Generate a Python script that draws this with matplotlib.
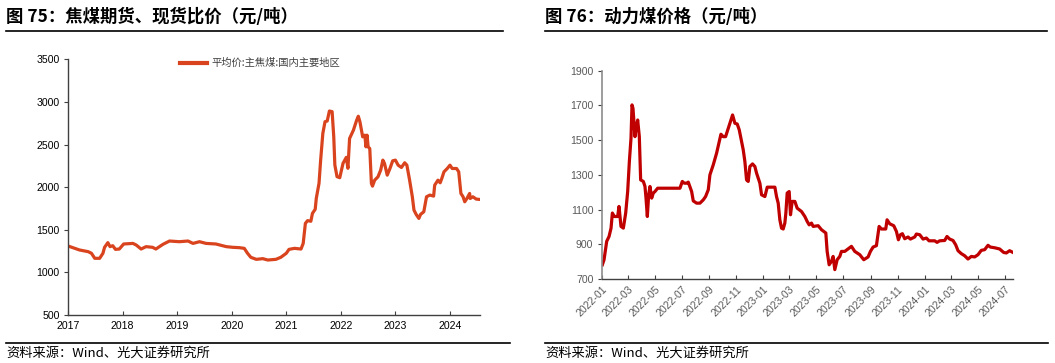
import matplotlib
matplotlib.use("Agg")
import matplotlib.pyplot as plt
import matplotlib.dates as mdates
from matplotlib.lines import Line2D
import pandas as pd
import numpy as np

plt.rcParams['font.family'] = ['Liberation Sans', 'Noto Sans CJK SC', 'DejaVu Sans']

# ---------------- data: left panel (decimal year, price) ----------------
coking_year = [
    2017.00, 2017.21, 2017.37, 2017.43, 2017.49, 2017.58, 2017.64, 2017.67, 2017.73, 2017.77,
    2017.82, 2017.87, 2017.94, 2018.02, 2018.19, 2018.25, 2018.34, 2018.43, 2018.55, 2018.61,
    2018.74, 2018.86, 2019.04, 2019.20, 2019.29, 2019.41, 2019.53, 2019.71, 2019.90, 2020.02,
    2020.14, 2020.23, 2020.29, 2020.35, 2020.45, 2020.57, 2020.66, 2020.81, 2020.90, 2021.00,
    2021.05, 2021.15, 2021.27, 2021.31, 2021.35, 2021.39, 2021.45, 2021.48, 2021.53, 2021.55,
    2021.60, 2021.63, 2021.67, 2021.71, 2021.75, 2021.79, 2021.84, 2021.87, 2021.89, 2021.93,
    2021.98, 2022.04, 2022.10, 2022.13, 2022.16, 2022.23, 2022.29, 2022.32, 2022.35, 2022.40,
    2022.44, 2022.46, 2022.48, 2022.50, 2022.53, 2022.56, 2022.58, 2022.62, 2022.68, 2022.73,
    2022.77, 2022.80, 2022.85, 2022.90, 2022.95, 2023.00, 2023.05, 2023.11, 2023.17, 2023.21,
    2023.26, 2023.31, 2023.34, 2023.38, 2023.43, 2023.46, 2023.52, 2023.57, 2023.63, 2023.70,
    2023.72, 2023.78, 2023.82, 2023.85, 2023.89, 2023.95, 2024.00, 2024.04, 2024.12, 2024.16,
    2024.20, 2024.24, 2024.27, 2024.31, 2024.36, 2024.37, 2024.42, 2024.48, 2024.54,
]
coking_price = [
    1310, 1263, 1243, 1224, 1165, 1165, 1224, 1294, 1349, 1302,
    1313, 1270, 1274, 1333, 1340, 1321, 1274, 1302, 1294, 1274,
    1329, 1368, 1360, 1368, 1340, 1360, 1340, 1333, 1302, 1294,
    1290, 1282, 1224, 1177, 1153, 1161, 1145, 1153, 1177, 1224,
    1270, 1282, 1274, 1340, 1575, 1607, 1600, 1693, 1740, 1869,
    2045, 2319, 2631, 2768, 2776, 2893, 2886, 2592, 2260, 2123,
    2111, 2280, 2350, 2221, 2571, 2668, 2786, 2832, 2766, 2590,
    2610, 2473, 2610, 2473, 2453, 2043, 2012, 2082, 2121, 2200,
    2317, 2278, 2141, 2219, 2309, 2317, 2258, 2231, 2286, 2258,
    2082, 1887, 1731, 1680, 1633, 1680, 1711, 1887, 1907, 1895,
    2024, 2082, 2051, 2102, 2180, 2219, 2258, 2219, 2219, 2180,
    1926, 1887, 1828, 1867, 1926, 1867, 1887, 1860, 1856,
]
coking_label = '平均价:主焦煤:国内主要地区'
left_years = [2017, 2018, 2019, 2020, 2021, 2022, 2023, 2024]
left_yticks = [500, 1000, 1500, 2000, 2500, 3000, 3500]

# ---------------- data: right panel (days since 2022-01-01, price) ----------------
thermal_start = '2022-01-01'
thermal_day = [
    1.5, 5.3, 11.3, 16.6, 21.1, 24.1, 28.6, 36.1, 39.1, 43.6,
    48.9, 54.2, 58.7, 62.5, 66.2, 68.5, 70.7, 75.2, 77.5, 81.3,
    85.0, 88.0, 94.1, 97.8, 100.1, 103.1, 106.1, 109.1, 112.9, 116.6,
    120.4, 126.4, 176.8, 182.1, 186.6, 191.9, 195.6, 203.2, 206.9, 214.4,
    222.0, 229.5, 234.7, 240.8, 244.5, 252.1, 259.6, 264.8, 269.4, 274.6,
    279.9, 285.9, 293.4, 295.7, 301.0, 306.2, 310.8, 316.0, 319.8, 323.5,
    327.3, 331.1, 334.8, 340.8, 346.1, 349.9, 357.4, 361.2, 368.7, 374.0,
    391.3, 395.0, 398.8, 402.5, 406.3, 410.1, 413.8, 416.1, 419.1, 423.6,
    426.6, 430.4, 436.4, 441.7, 451.4, 459.0, 464.2, 468.8, 474.0, 477.8,
    489.1, 496.6, 506.4, 509.4, 513.9, 519.2, 522.9, 526.7, 532.0, 538.0,
    541.7, 549.2, 554.5, 564.3, 571.8, 579.3, 583.1, 592.1, 601.9, 607.2,
    613.2, 620.7, 626.8, 632.0, 641.8, 644.8, 650.8, 659.9, 665.9, 670.4,
    674.9, 679.4, 684.7, 692.2, 697.5, 707.3, 711.0, 718.6, 726.1, 733.6,
    739.6, 752.4, 757.7, 763.7, 775.0, 780.2, 786.3, 793.8, 799.8, 805.1,
    812.6, 820.1, 827.6, 835.2, 842.7, 850.2, 857.7, 865.3, 872.8, 878.1,
    887.8, 899.1, 908.2, 914.2, 921.7, 929.2,
]
thermal_price = [
    782, 811, 917, 945, 993, 1080, 1060, 1060, 1118, 1003,
    993, 1080, 1204, 1377, 1511, 1703, 1683, 1520, 1568, 1616,
    1520, 1271, 1262, 1233, 1166, 1060, 1185, 1233, 1166, 1195,
    1204, 1223, 1223, 1262, 1252, 1252, 1258, 1204, 1150, 1137,
    1137, 1156, 1175, 1214, 1300, 1358, 1425, 1482, 1534, 1520,
    1520, 1568, 1626, 1645, 1597, 1593, 1559, 1492, 1444, 1377,
    1271, 1262, 1348, 1363, 1348, 1310, 1252, 1185, 1175, 1229,
    1229, 1175, 1137, 1041, 993, 988, 1022, 1080, 1195, 1204,
    1070, 1147, 1147, 1108, 1089, 1060, 1032, 1012, 1022, 1003,
    1007, 984, 965, 859, 782, 802, 830, 754, 811, 830,
    859, 859, 869, 888, 859, 846, 840, 811, 827, 859,
    884, 892, 1003, 988, 988, 1041, 1018, 1007, 974, 926,
    955, 961, 932, 942, 930, 942, 959, 955, 930, 936,
    920, 920, 911, 920, 922, 945, 930, 922, 897, 863,
    846, 834, 815, 830, 827, 840, 865, 869, 894, 884,
    880, 873, 853, 850, 863, 853,
]
right_ticks = ['2022-01', '2022-03', '2022-05', '2022-07', '2022-09', '2022-11',
               '2023-01', '2023-03', '2023-05', '2023-07', '2023-09', '2023-11',
               '2024-01', '2024-03', '2024-05', '2024-07']
right_yticks = [700, 900, 1100, 1300, 1500, 1700, 1900]

title_left = '图 75：焦煤期货、现货比价（元/吨）'
title_right = '图 76：动力煤价格（元/吨）'
source = '资料来源：Wind、光大证券研究所'

# ---------------- figure ----------------
W, H = 1055, 363
fig = plt.figure(figsize=(W / 100, H / 100), dpi=100)

def fx(px):
    return px / W

def fy(py):
    return 1 - py / H

# titles, rules, sources
for x0, x1, t in [(6, 503, title_left), (545, 1047, title_right)]:
    fig.text(fx(x0), fy(17), t, fontsize=12.5, fontweight='bold', va='center', ha='left',
             family=['Noto Sans CJK SC', 'DejaVu Sans'], color='#000000')
    fig.add_artist(Line2D([fx(x0), fx(x1)], [fy(31), fy(31)], color='#000000', lw=1.2))
for x0, x1 in [(6, 510), (545, 1048)]:
    fig.add_artist(Line2D([fx(x0), fx(x1)], [fy(343), fy(343)], color='#000000', lw=1.2))
    fig.text(fx(x0), fy(353), source, fontsize=9.5, va='center', ha='left',
             family=['Noto Sans CJK SC', 'DejaVu Sans'], color='#000000')

# ---------------- left axes ----------------
axL = fig.add_axes([fx(68), fy(315), fx(480) - fx(68), fy(59.3) - fy(315)])
axL.plot(coking_year, coking_price, color='#D9441E', lw=2.3, solid_joinstyle='round',
         label=coking_label)
axL.set_xlim(2017.0, 2024.55)
axL.set_ylim(500, 3500)
axL.set_xticks(left_years)
axL.set_xticklabels([str(y) for y in left_years])
axL.set_yticks(left_yticks)
for s in ['top', 'right']:
    axL.spines[s].set_visible(False)
for s in ['left', 'bottom']:
    axL.spines[s].set_color('#404040')
    axL.spines[s].set_linewidth(1.0)
axL.tick_params(axis='x', direction='in', length=3, labelsize=7.6, colors='#404040',
                labelcolor='#000000', pad=4)
axL.tick_params(axis='y', direction='out', length=3, labelsize=7.6, colors='#404040',
                labelcolor='#000000', pad=3)
leg = axL.legend(loc='center', bbox_to_anchor=(0.466, 0.985), frameon=False,
                 handlelength=2.7, handletextpad=0.4, prop={'family': ['Noto Sans CJK SC'], 'size': 7.4})
for t in leg.get_texts():
    t.set_color('#404040')
for h in leg.get_lines():
    h.set_linewidth(3.0)

# ---------------- right axes ----------------
axR = fig.add_axes([fx(601.7), fy(279), fx(1013.3) - fx(601.7), fy(70.7) - fy(279)])
dates = pd.Timestamp(thermal_start) + pd.to_timedelta(thermal_day, unit='D')
axR.plot(dates, thermal_price, color='#C00000', lw=2.3, solid_joinstyle='round')
axR.set_xlim(pd.Timestamp('2022-01-01'), pd.Timestamp('2024-07-19'))
axR.set_ylim(700, 1900)
axR.set_yticks(right_yticks)
tick_dates = [pd.Timestamp(t + '-01') for t in right_ticks]
axR.set_xticks(tick_dates)
axR.set_xticklabels(right_ticks, rotation=45, ha='right', rotation_mode='anchor')
for s in ['top', 'right']:
    axR.spines[s].set_visible(False)
axR.spines['left'].set_color('#8c8c8c')
axR.spines['left'].set_linewidth(1.2)
axR.spines['bottom'].set_color('#404040')
axR.spines['bottom'].set_linewidth(1.0)
axR.tick_params(axis='x', direction='in', length=3, labelsize=7.6, colors='#404040',
                labelcolor='#595959', pad=4)
axR.tick_params(axis='y', direction='out', length=3, labelsize=7.6, colors='#404040',
                labelcolor='#595959', pad=3)

fig.savefig('out.png', dpi=100)
